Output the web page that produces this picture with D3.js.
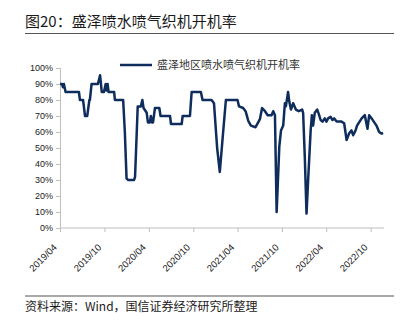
<!DOCTYPE html>
<html><head><meta charset="utf-8">
<script src="https://cdn.jsdelivr.net/npm/d3@7/dist/d3.min.js"></script>
<style>
html,body{margin:0;padding:0;background:#fff;}
svg{display:block;font-family:"Noto Sans CJK SC","Noto Sans",sans-serif;}
</style></head>
<body>
<script>
const title = "图20：盛泽喷水喷气织机开机率";
const seriesName = "盛泽地区喷水喷气织机开机率";
const source = "资料来源：Wind，国信证券经济研究所整理";
const yTicks = [0,10,20,30,40,50,60,70,80,90,100];
const xTickLabels = ["2019/04","2019/10","2020/04","2020/10","2021/04","2021/10","2022/04","2022/10"];
const dates = [
"2019-04-01","2019-04-09","2019-04-13","2019-04-17","2019-04-24","2019-06-18","2019-06-22","2019-07-05","2019-07-13","2019-07-22",
"2019-07-31","2019-08-02","2019-08-09","2019-09-04","2019-09-13","2019-09-20","2019-09-29","2019-10-06","2019-10-09","2019-10-14",
"2019-10-18","2019-11-10","2019-11-13","2019-12-17","2019-12-24","2019-12-31","2020-01-06","2020-01-31","2020-02-04","2020-02-15",
"2020-02-28","2020-03-05","2020-03-10","2020-03-23","2020-03-28","2020-04-05","2020-04-09","2020-04-14","2020-04-18","2020-04-26",
"2020-05-14","2020-05-19","2020-06-27","2020-07-01","2020-08-14","2020-08-18","2020-09-17","2020-09-24","2020-11-01","2020-11-08",
"2020-12-15","2020-12-25","2021-01-07","2021-01-18","2021-01-30","2021-02-12","2021-04-01","2021-04-07","2021-04-24","2021-05-04",
"2021-05-08","2021-05-15","2021-05-26","2021-06-14","2021-06-25","2021-07-02","2021-07-11","2021-07-23","2021-08-03","2021-08-19",
"2021-08-26","2021-09-02","2021-09-09","2021-09-20","2021-09-27","2021-10-06","2021-10-13","2021-10-17","2021-10-26","2021-10-31",
"2021-11-07","2021-11-16","2021-11-27","2021-12-09","2021-12-23","2021-12-27","2022-01-03","2022-01-10","2022-01-17","2022-01-27",
"2022-02-01","2022-02-06","2022-02-13","2022-02-23","2022-03-02","2022-03-09","2022-03-17","2022-03-26","2022-04-02","2022-04-09",
"2022-04-19","2022-04-27","2022-05-04","2022-05-14","2022-06-03","2022-06-14","2022-06-24","2022-07-04","2022-07-14","2022-07-21",
"2022-07-31","2022-08-06","2022-08-25","2022-09-07","2022-09-18","2022-09-25","2022-10-05","2022-10-14","2022-10-25","2022-11-05",
"2022-11-15","2022-11-21"];
const values = [
90,90,88,90,85,85,80,80,70,70,
80,80,90,90,95.5,85,85,90,86,90,
85,85,80,80,60,31,30,30,32,76,
76,80,75,72,66,66,70,66,66,75,
75,70,70,65,65,70,70,85,85,80,
80,78,50,35,57,80,80,76,75,73,
71,67,64,63,66,68,75,73,70.5,70.5,
73,70.5,10,51,61,64,78,76,85,79,
74,78,74,73,74,72,44,9,31,61,
70.5,64,72,74,71,67.5,66.5,68.5,66.5,68.5,
69.5,67.5,68.5,66.5,66.5,65.5,55,59,61,58,
61,64,68.5,70.5,62,70.5,68.5,66.5,64,60,
59,59.5];

const W=414,H=333;
const svg=d3.select("body").append("svg").attr("width",W).attr("height",H);
const parse=d3.timeParse("%Y-%m-%d");
const data=dates.map((d,i)=>({date:parse(d),value:values[i]}));

const x=d3.scaleTime().domain([parse("2019-04-01"),parse("2022-11-25")]).range([60,384]);
const y=d3.scaleLinear().domain([0,100]).range([228,68]);

// title
svg.append("text").attr("x",25).attr("y",27).attr("font-size",15).attr("fill","#1a1a1a").text(title);
svg.append("line").attr("x1",25).attr("x2",394).attr("y1",33.5).attr("y2",33.5).attr("stroke","#555").attr("stroke-width",1);

// y axis
const yAxis=svg.append("g").attr("transform","translate(60,0)")
  .call(d3.axisLeft(y).tickValues(yTicks).tickSize(4).tickFormat(d=>d+"%"));
yAxis.selectAll("path,line").attr("stroke","#bfbfbf");
yAxis.selectAll("text").attr("font-size",9).attr("fill","#222").attr("font-family","Liberation Sans, Arial, sans-serif").attr("x",-7);

// x axis
const fmt=d3.timeFormat("%Y/%m");
const xTickDates=xTickLabels.map(s=>d3.timeParse("%Y/%m")(s));
const xAxis=svg.append("g").attr("transform","translate(0,228)")
  .call(d3.axisBottom(x).tickValues(xTickDates).tickSize(4).tickFormat(fmt));
xAxis.select("path").attr("stroke","#bfbfbf").attr("d","M60,0H384");
xAxis.selectAll("line").attr("stroke","#bfbfbf");
xAxis.selectAll("text").attr("font-size",9.5).attr("fill","#222").attr("font-family","Liberation Sans, Arial, sans-serif")
  .attr("text-anchor","end").attr("dy",null).attr("y",0)
  .attr("transform","translate(-3,20) rotate(-45)");

// line
svg.append("path").datum(data)
  .attr("fill","none").attr("stroke","#0e2c5c").attr("stroke-width",2.5).attr("stroke-linejoin","round")
  .attr("d",d3.line().x(d=>x(d.date)).y(d=>y(d.value)));

// legend
svg.append("line").attr("x1",120).attr("x2",152).attr("y1",65).attr("y2",65).attr("stroke","#0e2c5c").attr("stroke-width",2.5);
svg.append("text").attr("x",157).attr("y",69).attr("font-size",11).attr("fill","#333").text(seriesName);

// footer
svg.append("line").attr("x1",25).attr("x2",394).attr("y1",296).attr("y2",296).attr("stroke","#555").attr("stroke-width",1);
svg.append("text").attr("x",25).attr("y",311).attr("font-size",12).attr("fill","#1a1a1a").text(source);
</script>
</body></html>
